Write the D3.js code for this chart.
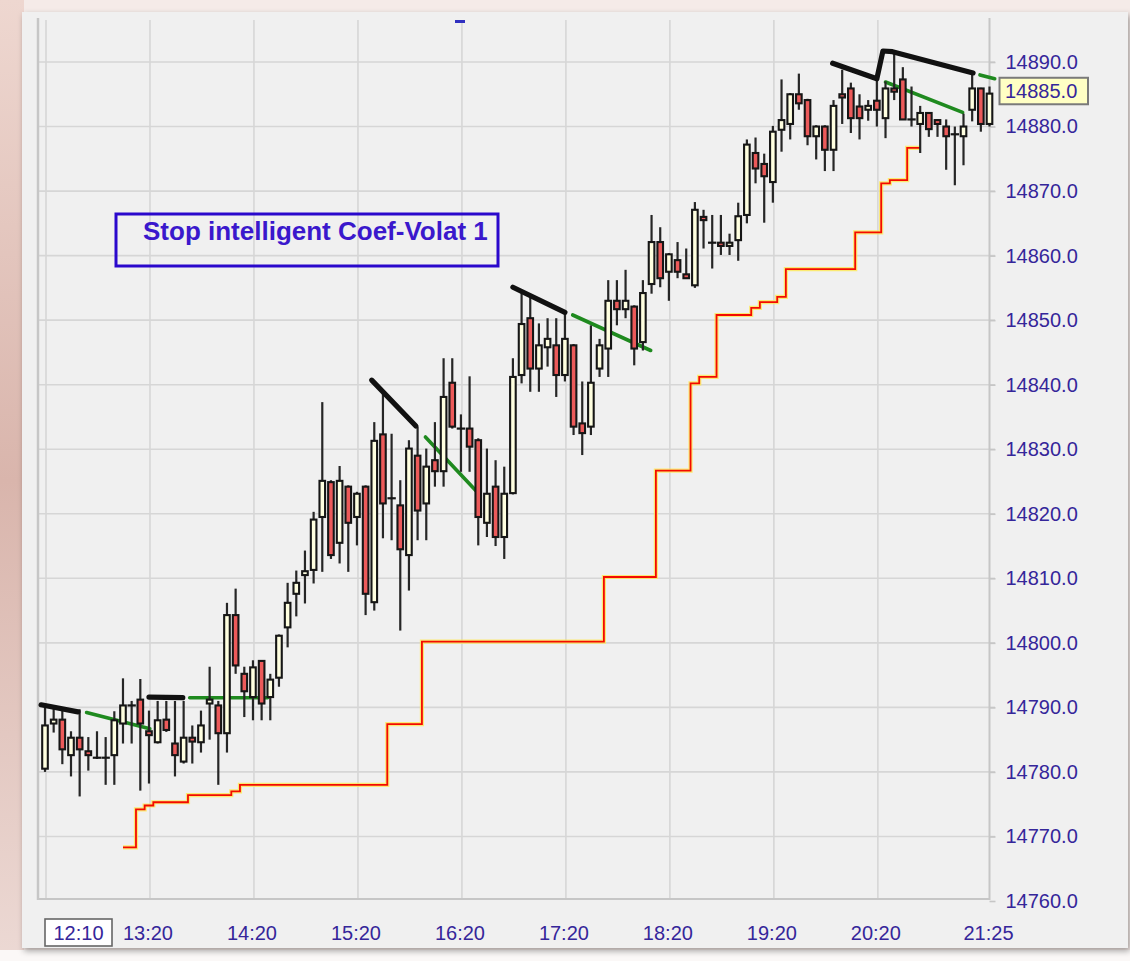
<!DOCTYPE html>
<html><head><meta charset="utf-8">
<script src="https://cdn.jsdelivr.net/npm/d3@7"></script>
<style>html,body{margin:0;padding:0;background:#f3e6e2;overflow:hidden}</style>
</head><body>
<svg id="c" width="1130" height="961"></svg>
<script>
// ---------- DATA ----------
const timeLabels = ["12:10","13:20","14:20","15:20","16:20","17:20","18:20","19:20","20:20","21:25"];
const timeIdx = [0,12,24,36,48,60,72,84,96,109];
const priceTicks = [14760,14770,14780,14790,14800,14810,14820,14830,14840,14850,14860,14870,14880,14890];
const lastPrice = 14885.0;
const title = "Stop intelligent Coef-Volat 1";

const opens = [14780.5,14787.5,14788.1,14782.6,14785.3,14783.2,14782.2,14782.2,14782.6,14787.5,
14790.3,14791.2,14786.3,14784.6,14788.1,14784.4,14781.6,14785.3,14784.6,14790.6,
14790.3,14786.0,14804.3,14795.2,14791.6,14797.2,14791.6,14794.6,14802.4,14807.6,
14810.5,14811.3,14819.5,14824.9,14815.5,14824.2,14819.5,14824.2,14806.3,14832.3,
14822.4,14821.3,14813.6,14829.0,14821.6,14828.3,14826.6,14840.3,14833.2,14833.2,
14831.4,14818.6,14824.2,14816.4,14823.2,14841.5,14850.3,14842.5,14845.8,14846.1,
14841.5,14846.1,14834.0,14833.5,14842.5,14845.6,14853.0,14851.7,14852.1,14846.6,
14855.6,14862.1,14857.5,14859.3,14857.1,14855.4,14866.0,14862.0,14862.0,14861.5,
14862.4,14866.3,14875.9,14874.2,14871.4,14879.5,14880.4,14885.0,14884.1,14878.5,
14880.0,14876.4,14885.0,14885.9,14883.1,14882.6,14884.0,14881.3,14885.9,14887.3,
14881.1,14880.4,14882.1,14881.0,14880.0,14878.8,14878.5,14882.6,14885.9,14880.4];
const highs = [14790.0,14789.9,14789.7,14786.3,14789.7,14785.4,14786.3,14785.4,14789.4,14794.5,
14791.0,14794.4,14789.5,14791.0,14791.0,14791.0,14791.0,14787.2,14789.5,14796.3,
14791.0,14806.2,14808.4,14796.3,14797.3,14797.3,14795.2,14801.3,14809.3,14811.2,
14814.3,14820.3,14837.3,14825.2,14827.4,14824.4,14823.4,14824.4,14834.2,14838.6,
14832.4,14825.2,14831.4,14833.5,14830.1,14834.2,14844.1,14844.1,14835.4,14841.3,
14831.7,14830.1,14828.3,14827.3,14844.1,14854.2,14853.6,14849.5,14850.3,14850.3,
14851.0,14846.3,14840.5,14849.2,14847.1,14856.2,14856.2,14857.8,14852.3,14856.2,
14866.3,14864.4,14860.4,14862.1,14861.1,14868.3,14867.1,14866.3,14866.3,14863.4,
14868.2,14878.0,14878.3,14875.8,14880.1,14887.3,14885.2,14888.2,14884.3,14880.2,
14880.2,14884.1,14888.8,14886.8,14885.0,14884.1,14887.5,14887.0,14891.4,14889.2,
14886.2,14883.2,14882.2,14881.1,14881.1,14880.0,14882.0,14888.0,14886.0,14886.2];
const lows = [14780.0,14786.1,14781.2,14779.3,14776.2,14780.2,14782.0,14778.0,14778.0,14784.4,
14784.4,14777.1,14778.2,14784.4,14786.2,14779.3,14781.3,14781.3,14783.0,14785.0,
14778.0,14783.0,14795.2,14788.5,14788.0,14788.0,14788.0,14793.2,14799.3,14804.1,
14806.1,14809.2,14811.0,14813.0,14812.3,14811.0,14815.1,14804.3,14805.0,14816.2,
14815.9,14801.9,14808.1,14815.9,14815.9,14824.2,14824.2,14833.2,14826.5,14826.5,
14815.1,14816.4,14815.0,14813.0,14823.0,14840.2,14838.9,14838.9,14842.8,14838.1,
14840.5,14832.2,14829.1,14832.2,14841.2,14841.2,14849.2,14850.3,14843.0,14845.3,
14854.1,14855.1,14853.0,14856.5,14856.5,14855.0,14861.1,14858.0,14860.1,14860.1,
14859.2,14865.0,14871.2,14865.1,14868.2,14876.1,14878.0,14882.6,14877.1,14874.9,
14873.1,14873.1,14880.4,14879.0,14878.0,14880.9,14880.0,14878.2,14884.1,14881.1,
14880.0,14875.9,14878.4,14878.4,14873.3,14870.9,14874.0,14880.8,14879.2,14880.0];
const closes = [14787.2,14788.1,14783.5,14785.3,14783.5,14782.6,14782.2,14782.2,14788.0,14790.3,
14790.3,14787.5,14785.7,14788.0,14786.5,14782.6,14785.3,14784.7,14787.2,14791.2,
14786.0,14804.3,14796.5,14792.5,14796.2,14790.6,14794.3,14801.1,14806.2,14809.3,
14811.1,14819.1,14825.1,14813.6,14825.1,14818.6,14823.1,14807.6,14831.3,14821.6,
14822.4,14814.5,14830.1,14820.5,14827.3,14826.6,14838.1,14833.5,14833.2,14830.4,
14819.5,14823.1,14816.4,14823.1,14841.2,14849.4,14842.5,14846.1,14847.1,14841.5,
14847.1,14833.5,14832.5,14840.3,14846.1,14853.0,14851.7,14853.0,14845.6,14854.2,
14862.1,14856.5,14860.2,14857.5,14856.5,14867.1,14865.5,14862.0,14861.5,14862.0,
14866.1,14877.2,14873.5,14872.3,14879.2,14881.0,14885.0,14883.6,14878.5,14880.0,
14876.4,14883.2,14884.5,14881.3,14881.3,14883.2,14882.6,14885.9,14885.4,14881.1,
14881.1,14882.1,14879.6,14880.4,14878.5,14878.8,14880.0,14885.9,14880.4,14885.1];

// trailing stop (one value per candle, starting at candle stopFirst)
const stopFirst = 9;
const stopVals = [14768.3,14768.3,14774.2,14774.8,14775.3,14775.3,14775.3,14775.3,
14776.4,14776.4,14776.4,14776.4,14776.4,14777.0,
14778.0,14778.0,14778.0,14778.0,14778.0,14778.0,14778.0,14778.0,14778.0,14778.0,14778.0,14778.0,14778.0,14778.0,14778.0,14778.0,14778.0,
14787.4,14787.4,14787.4,14787.4,
14800.2,14800.2,14800.2,14800.2,14800.2,14800.2,14800.2,14800.2,14800.2,14800.2,14800.2,14800.2,14800.2,14800.2,14800.2,14800.2,14800.2,14800.2,14800.2,14800.2,14800.2,
14810.2,14810.2,14810.2,14810.2,14810.2,14810.2,
14826.7,14826.7,14826.7,14826.7,
14840.2,14841.2,14841.2,
14850.8,14850.8,14850.8,14850.8,
14851.9,14852.8,14852.8,14853.6,
14857.9,14857.9,14857.9,14857.9,14857.9,14857.9,14857.9,14857.9,
14863.6,14863.6,14863.6,
14871.2,14871.7,14871.7,14876.7,14876.7];

// overlay segments: [candle index, price]
const blackLines = [
  [[-0.45,14790.4],[3.8,14789.3]],
  [[12.0,14791.6],[15.9,14791.5]],
  [[37.7,14840.7],[42.8,14833.6]],
  [[54.0,14855.1],[60.0,14851.2]],
  [[90.9,14889.8],[96.0,14887.4],[96.7,14891.7],[97.8,14891.6],[107.1,14888.3]]
];
const greenLines = [
  [[4.8,14789.2],[12.1,14786.7]],
  [[16.7,14791.5],[25.7,14791.5]],
  [[43.9,14831.9],[50.2,14822.9]],
  [[60.9,14850.8],[69.9,14845.3]],
  [[97.0,14886.9],[105.9,14882.2]],
  [[107.9,14888.0],[109.6,14887.4]]
];

// ---------- DRAW ----------
const svg = d3.select("#c");
const x = d3.scaleLinear().domain([0,109]).range([45,989.5]);
const y = d3.scaleLinear().domain([14760,14890]).range([901,62]);
const FONT = "'Liberation Sans', Arial, sans-serif";
const TXT = "#35269a";

const defs = svg.append("defs");
const bg = defs.append("linearGradient").attr("id","bgl").attr("x1",0).attr("x2",0).attr("y1",0).attr("y2",1);
bg.append("stop").attr("offset","0").attr("stop-color","#eed7d0");
bg.append("stop").attr("offset","0.5").attr("stop-color","#d9b5ac");
bg.append("stop").attr("offset","1").attr("stop-color","#ecd9d4");
const sh = defs.append("filter").attr("id","sh").attr("x","-5%").attr("y","-5%").attr("width","110%").attr("height","110%");
sh.append("feDropShadow").attr("dx",2).attr("dy",3).attr("stdDeviation",3).attr("flood-color","#000").attr("flood-opacity",0.35);

svg.append("rect").attr("width",1130).attr("height",961).attr("fill","#f5ebe8");
svg.append("rect").attr("x",0).attr("y",0).attr("width",24).attr("height",961).attr("fill","url(#bgl)");
svg.append("rect").attr("x",0).attr("y",950).attr("width",1130).attr("height",11).attr("fill","#fbf8f7");
svg.append("rect").attr("x",22).attr("y",12).attr("width",1106).attr("height",936)
  .attr("fill","#f0f0f0").attr("filter","url(#sh)");

// grid
const grid = svg.append("g");
grid.selectAll("line.h").data(priceTicks.filter(d=>d>14760)).join("line")
  .attr("x1",38).attr("x2",995).attr("y1",d=>y(d)).attr("y2",d=>y(d))
  .attr("stroke","#d6d6d6").attr("stroke-width",1.6);
grid.selectAll("line.v").data(timeIdx.slice(0,-1)).join("line")
  .attr("x1",d=>x(d)+1).attr("x2",d=>x(d)+1).attr("y1",20).attr("y2",899)
  .attr("stroke","#d6d6d6").attr("stroke-width",1.6);
// frame
svg.append("line").attr("x1",38).attr("x2",38).attr("y1",18).attr("y2",900).attr("stroke","#c6c6c6").attr("stroke-width",2.5);
svg.append("line").attr("x1",38).attr("x2",990).attr("y1",899).attr("y2",899).attr("stroke","#c6c6c6").attr("stroke-width",2);
svg.append("line").attr("x1",989.5).attr("x2",989.5).attr("y1",18).attr("y2",900).attr("stroke","#c6c6c6").attr("stroke-width",2);

// y axis labels
const yAxis = d3.axisRight(y).tickValues(priceTicks).tickFormat(d3.format(".1f")).tickSize(6).tickPadding(10);
const ya = svg.append("g").attr("transform","translate(989.5,0)").call(yAxis);
ya.select(".domain").remove();
ya.selectAll(".tick line").attr("stroke","#c6c6c6").attr("stroke-width",1.6);
ya.selectAll(".tick text").attr("font-family",FONT).attr("font-size",20).attr("fill",TXT);

// x labels
svg.append("rect").attr("x",x(0)).attr("y",919).attr("width",67).attr("height",27)
  .attr("fill","#fff").attr("stroke","#666").attr("stroke-width",1.6);
svg.append("g").selectAll("text").data(timeIdx).join("text")
  .attr("x",(d,i)=> i===0 ? x(d)+33.5 : x(d)-1)
  .attr("y",940).attr("text-anchor","middle")
  .attr("font-family",FONT).attr("font-size",20).attr("fill",TXT)
  .text((d,i)=>timeLabels[i]);

// trailing stop step line
const stopPts = stopVals.map((v,k)=>[stopFirst+k, v]);
const stepLine = d3.line().x(d=>x(d[0])).y(d=>y(d[1])).curve(d3.curveStep);
svg.append("path").attr("d",stepLine(stopPts)).attr("fill","none").attr("stroke","#ffe84a").attr("stroke-width",4.2).attr("stroke-opacity",0.75);
svg.append("path").attr("d",stepLine(stopPts)).attr("fill","none").attr("stroke","#f40a00").attr("stroke-width",1.8);

// green lines
const segLine = d3.line().x(d=>x(d[0])).y(d=>y(d[1]));
svg.append("g").selectAll("path").data(greenLines).join("path")
  .attr("d",segLine).attr("fill","none").attr("stroke","#1f8a1f").attr("stroke-width",3.6).attr("stroke-linecap","round");

// candles
const idx = d3.range(opens.length);
const cg = svg.append("g");
cg.selectAll("line.w").data(idx).join("line")
  .attr("x1",i=>x(i)).attr("x2",i=>x(i)).attr("y1",i=>y(highs[i])).attr("y2",i=>y(lows[i]))
  .attr("stroke","#262626").attr("stroke-width",2.2);
const bodies = idx.filter(i=>opens[i]!==closes[i]);
cg.selectAll("rect").data(bodies).join("rect")
  .attr("x",i=>x(i)-2.8).attr("width",5.6)
  .attr("y",i=>y(Math.max(opens[i],closes[i])))
  .attr("height",i=>Math.max(1.5, Math.abs(y(opens[i])-y(closes[i]))))
  .attr("fill",i=> closes[i]>opens[i] ? "#ffffe0" : "#ec5a5a")
  .attr("stroke","#161616").attr("stroke-width",2.1);
const dojis = idx.filter(i=>opens[i]===closes[i]);
cg.selectAll("line.d").data(dojis).join("line")
  .attr("x1",i=>x(i)-4.2).attr("x2",i=>x(i)+4.2).attr("y1",i=>y(closes[i])).attr("y2",i=>y(closes[i]))
  .attr("stroke","#161616").attr("stroke-width",2.2);

// black lines
svg.append("g").selectAll("path").data(blackLines).join("path")
  .attr("d",segLine).attr("fill","none").attr("stroke","#111").attr("stroke-width",5.2)
  .attr("stroke-linecap","round").attr("stroke-linejoin","round");

// last price box
const lp = y(lastPrice);
svg.append("rect").attr("x",999.5).attr("y",lp-16.5).attr("width",88.5).attr("height",26.5)
  .attr("fill","#ffffc4").attr("stroke","#7a7a7a").attr("stroke-width",2);
svg.append("text").attr("x",1005).attr("y",lp+4).attr("font-family",FONT).attr("font-size",20)
  .attr("fill",TXT).text(d3.format(".1f")(lastPrice));

// title box
svg.append("rect").attr("x",116).attr("y",214).attr("width",382).attr("height",52)
  .attr("fill","none").attr("stroke","#2a08cc").attr("stroke-width",3);
svg.append("text").attr("x",143).attr("y",240).attr("font-family",FONT).attr("font-size",26)
  .attr("font-weight","bold").attr("fill","#3a18cc").text(title);

// small cut-off marker at top
svg.append("rect").attr("x",455).attr("y",20).attr("width",10).attr("height",3).attr("fill","#3030c0");
</script>
</body></html>
